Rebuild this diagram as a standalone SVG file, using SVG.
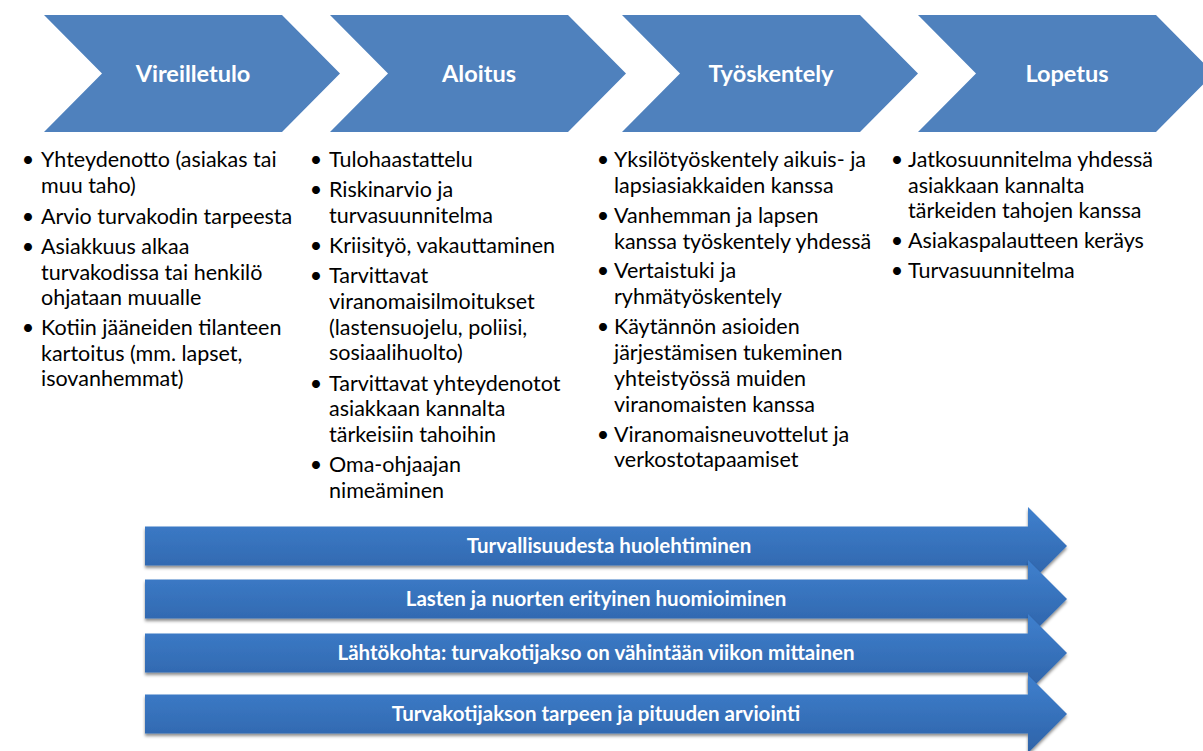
<svg xmlns="http://www.w3.org/2000/svg" width="1203" height="751" viewBox="0 0 1203 751">
<defs>
<linearGradient id="arrGrad" x1="0" y1="0" x2="0" y2="1">
<stop offset="0" stop-color="#3F80CE"/>
<stop offset="1" stop-color="#2E63A8"/>
</linearGradient>
<filter id="shadow" x="-5%" y="-30%" width="110%" height="170%">
<feDropShadow dx="0" dy="2.5" stdDeviation="1.8" flood-color="#000" flood-opacity="0.45"/>
</filter>
<style>
.chev{fill:#4F81BD;}
.chevt{font-family:Lato,"Liberation Sans",sans-serif;font-weight:bold;font-size:23.5px;fill:#fff;text-anchor:middle;}
.body{font-family:Lato,"Liberation Sans",sans-serif;font-size:21.5px;fill:#000;}
.bul{font-family:Lato,"Liberation Sans",sans-serif;font-size:21.5px;fill:#000;text-anchor:middle;}
.arr{fill:url(#arrGrad);filter:url(#shadow);}
.arrt{font-family:Lato,"Liberation Sans",sans-serif;font-weight:bold;font-size:20.5px;fill:#fff;text-anchor:middle;}
</style>
</defs>
<rect width="1203" height="751" fill="#fff"/>

<g id="vireilletulo">
<polygon class="chev" points="44,15 282,15 340,73.5 282,132 44,132 102,73.5"/>
<text class="chevt" x="193" y="81.5">Vireilletulo</text>
</g>
<g id="aloitus">
<polygon class="chev" points="330,15 568,15 626,73.5 568,132 330,132 388,73.5"/>
<text class="chevt" x="479" y="81.5">Aloitus</text>
</g>
<g id="tyoskentely">
<polygon class="chev" points="622,15 860,15 918,73.5 860,132 622,132 680,73.5"/>
<text class="chevt" x="771" y="81.5">Työskentely</text>
</g>
<g id="lopetus">
<polygon class="chev" points="918,15 1156,15 1214,73.5 1156,132 918,132 976,73.5"/>
<text class="chevt" x="1067" y="81.5">Lopetus</text>
</g>

<g id="list-vireilletulo">
<text class="bul" x="28" y="167">•</text>
<text class="body" x="41" y="167">Yhteydenotto (asiakas tai</text>
<text class="body" x="41" y="193">muu taho)</text>
<text class="bul" x="28" y="224">•</text>
<text class="body" x="41" y="224">Arvio turvakodin tarpeesta</text>
<text class="bul" x="28" y="254">•</text>
<text class="body" x="41" y="254">Asiakkuus alkaa</text>
<text class="body" x="41" y="280">turvakodissa tai henkilö</text>
<text class="body" x="41" y="305">ohjataan muualle</text>
<text class="bul" x="28" y="335">•</text>
<text class="body" x="41" y="335">Kotiin jääneiden tilanteen</text>
<text class="body" x="41" y="361">kartoitus (mm. lapset,</text>
<text class="body" x="41" y="386">isovanhemmat)</text>
</g>

<g id="list-aloitus">
<text class="bul" x="316" y="167">•</text>
<text class="body" x="329" y="167">Tulohaastattelu</text>
<text class="bul" x="316" y="197">•</text>
<text class="body" x="329" y="197">Riskinarvio ja</text>
<text class="body" x="329" y="223">turvasuunnitelma</text>
<text class="bul" x="316" y="253">•</text>
<text class="body" x="329" y="253">Kriisityö, vakauttaminen</text>
<text class="bul" x="316" y="283">•</text>
<text class="body" x="329" y="283">Tarvittavat</text>
<text class="body" x="329" y="309">viranomaisilmoitukset</text>
<text class="body" x="329" y="335">(lastensuojelu, poliisi,</text>
<text class="body" x="329" y="360">sosiaalihuolto)</text>
<text class="bul" x="316" y="391">•</text>
<text class="body" x="329" y="391">Tarvittavat yhteydenotot</text>
<text class="body" x="329" y="416">asiakkaan kannalta</text>
<text class="body" x="329" y="442">tärkeisiin tahoihin</text>
<text class="bul" x="316" y="472">•</text>
<text class="body" x="329" y="472">Oma-ohjaajan</text>
<text class="body" x="329" y="498">nimeäminen</text>
</g>

<g id="list-tyoskentely">
<text class="bul" x="603" y="167">•</text>
<text class="body" x="614" y="167">Yksilötyöskentely aikuis- ja</text>
<text class="body" x="614" y="193">lapsiasiakkaiden kanssa</text>
<text class="bul" x="603" y="223">•</text>
<text class="body" x="614" y="223">Vanhemman ja lapsen</text>
<text class="body" x="614" y="249">kanssa työskentely yhdessä</text>
<text class="bul" x="603" y="278">•</text>
<text class="body" x="614" y="278">Vertaistuki ja</text>
<text class="body" x="614" y="304">ryhmätyöskentely</text>
<text class="bul" x="603" y="334">•</text>
<text class="body" x="614" y="334">Käytännön asioiden</text>
<text class="body" x="614" y="360">järjestämisen tukeminen</text>
<text class="body" x="614" y="386">yhteistyössä muiden</text>
<text class="body" x="614" y="412">viranomaisten kanssa</text>
<text class="bul" x="603" y="442">•</text>
<text class="body" x="614" y="442">Viranomaisneuvottelut ja</text>
<text class="body" x="614" y="467">verkostotapaamiset</text>
</g>

<g id="list-lopetus">
<text class="bul" x="897" y="167">•</text>
<text class="body" x="908" y="167">Jatkosuunnitelma yhdessä</text>
<text class="body" x="908" y="193">asiakkaan kannalta</text>
<text class="body" x="908" y="218">tärkeiden tahojen kanssa</text>
<text class="bul" x="897" y="248">•</text>
<text class="body" x="908" y="248">Asiakaspalautteen keräys</text>
<text class="bul" x="897" y="278">•</text>
<text class="body" x="908" y="278">Turvasuunnitelma</text>
</g>

<g id="arrow-turvallisuus">
<polygon class="arr" points="145,526.5 1028,526.5 1028,507 1067,546 1028,585 1028,565.5 145,565.5"/>
<text class="arrt" x="609" y="553">Turvallisuudesta huolehtiminen</text>
</g>
<g id="arrow-lapset">
<polygon class="arr" points="145,579.5 1028,579.5 1028,560 1067,599 1028,638 1028,618.5 145,618.5"/>
<text class="arrt" x="596" y="606">Lasten ja nuorten erityinen huomioiminen</text>
</g>
<g id="arrow-lahtokohta">
<polygon class="arr" points="145,633.5 1028,633.5 1028,614 1067,653 1028,692 1028,672.5 145,672.5"/>
<text class="arrt" x="596" y="660">Lähtökohta: turvakotijakso on vähintään viikon mittainen</text>
</g>
<g id="arrow-arviointi">
<polygon class="arr" points="145,694.5 1028,694.5 1028,675 1067,714 1028,753 1028,733.5 145,733.5"/>
<text class="arrt" x="596" y="721">Turvakotijakson tarpeen ja pituuden arviointi</text>
</g>

<g id="connectors"/>
</svg>
